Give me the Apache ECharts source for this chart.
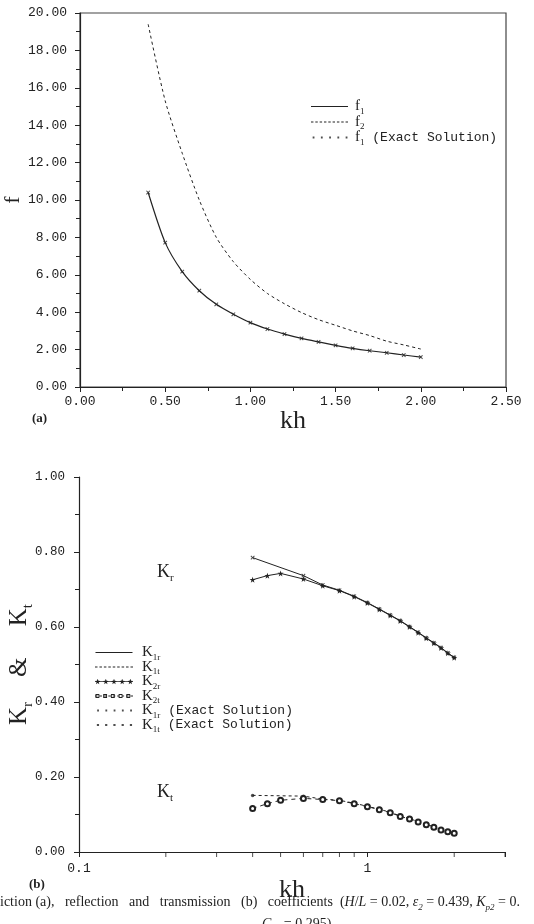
<!DOCTYPE html>
<html><head><meta charset="utf-8">
<script src="https://cdn.jsdelivr.net/npm/echarts@6/dist/echarts.min.js"></script>
<style>html,body{margin:0;padding:0;background:#fff}#c{width:534px;height:924px}</style>
</head><body><div id="c"></div>
<script>
// ---- Panel (a) data ----
const khA = [0.4,0.5,0.6,0.7,0.8,0.9,1.0,1.1,1.2,1.3,1.4,1.5,1.6,1.7,1.8,1.9,2.0];
const f1 = [10.4,7.72,6.17,5.15,4.42,3.89,3.44,3.10,2.83,2.60,2.41,2.23,2.07,1.94,1.83,1.71,1.60];
const f2 = [19.4,15.3,12.5,10.0,8.0,6.7,5.75,5.0,4.45,3.98,3.6,3.3,3.0,2.75,2.45,2.25,2.03];
const f1Exact = [10.4,7.72,6.17,5.15,4.42,3.89,3.44,3.10,2.83,2.60,2.41,2.23,2.07,1.94,1.83,1.71,1.60];

// ---- Panel (b) data ----
const khB = [0.4,0.45,0.5,0.6,0.7,0.8,0.9,1.0,1.1,1.2,1.3,1.4,1.5,1.6,1.7,1.8,1.9,2.0];
const kh1 = [0.4,0.6,0.7,0.8,0.9,1.0,1.1,1.2,1.3,1.4,1.5,1.6,1.7,1.8,1.9,2.0];
const K1r = [0.785,0.737,0.712,0.698,0.682,0.665,0.648,0.632,0.617,0.601,0.586,0.571,0.558,0.545,0.531,0.519];
const K1t = [0.151,0.149,0.141,0.138,0.130,0.122,0.114,0.106,0.096,0.089,0.081,0.074,0.067,0.060,0.055,0.051];
const K2r = [0.726,0.737,0.743,0.728,0.710,0.697,0.681,0.664,0.647,0.631,0.616,0.600,0.585,0.570,0.557,0.544,0.530,0.518];
const K2t = [0.116,0.129,0.138,0.143,0.140,0.137,0.129,0.121,0.113,0.105,0.095,0.088,0.080,0.073,0.066,0.059,0.054,0.050];
const K1rExact = [0.785,0.737,0.712,0.698,0.682,0.665,0.648,0.632,0.617,0.601,0.586,0.571,0.558,0.545,0.531,0.519];
const K1tExact = [0.151,0.149,0.141,0.138,0.130,0.122,0.114,0.106,0.096,0.089,0.081,0.074,0.067,0.060,0.055,0.051];
const logMinorTicks = [0.2,0.3,0.4,0.5,0.6,0.7,0.8,0.9,2,3];
const logLabels = ['0.1','1'];

// ---- helpers ----
const pair = (xs, ys) => xs.map((x, i) => [x, ys[i]]);
const INK = '#222';
const MONO = 'Liberation Mono';
const SERIF = 'Liberation Serif';

function rect(x, y, w, h) { return `M${x},${y}h${w}v${h}h${-w}z`; }
function dashes(y) { let s = ''; for (let x = 0; x < 37; x += 4.6) s += rect(x, y, 2.6, 0.9); return s; }
function dots(size) { let s = ''; for (let i = 0; i < 5; i++) { const cx = 2 + i * 8.25; s += rect(cx - size / 2, 3 - size / 2, size, size); } return s; }
function stars() { let s = ''; for (let i = 0; i < 5; i++) { const cx = 2.5 + i * 8; s += `M${cx},0.2L${cx+0.75},2.2L${cx+2.6},2.3L${cx+1.1},3.5L${cx+1.6},5.6L${cx},4.4L${cx-1.6},5.6L${cx-1.1},3.5L${cx-2.6},2.3L${cx-0.75},2.2Z`; } return s; }
function rings() { let s = ''; for (let i = 0; i < 5; i++) { const cx = 2.5 + i * 8; s += `M${cx-2},1h4v4h-4z M${cx-1.1},1.9v2.2h2.2v-2.2z`; } return s; }
const ICON_SOLID = 'path://' + rect(0, 2.6, 37, 0.9) + rect(0, 0, 0.01, 6);
const ICON_DASH = 'path://' + dashes(2.6) + rect(0, 0, 0.01, 6);
const ICON_CROSS = 'path://' + dots(1.8) + rect(0, 0, 0.01, 6);
const ICON_DOT = 'path://' + dots(2.2) + rect(0, 0, 0.01, 6);
const ICON_STAR = 'path://' + rect(0, 2.6, 37, 0.9) + stars();
const ICON_RING = 'path://' + dashes(2.6) + rings();

const crossSym = 'path://M2,0h1v2h2v1h-2v2h-1v-2h-2v-1h2z';
const starSym = 'path://M5,0L6.2,3.6L10,3.6L6.9,5.9L8.1,9.5L5,7.3L1.9,9.5L3.1,5.9L0,3.6L3.8,3.6Z';

const legendRich = {
  m: { fontFamily: MONO, fontSize: 13, lineHeight: 13, color: INK },
  k: { fontFamily: SERIF, fontSize: 15, lineHeight: 13, color: INK },
  s: { fontFamily: SERIF, fontSize: 9, lineHeight: 9, verticalAlign: 'bottom', color: INK, padding: [0, 0, -3, 0] }
};
const legendNames = {
  'f1': '{k|f}{s|1}',
  'f2': '{k|f}{s|2}',
  'f1 exact': '{k|f}{s|1}{m| (Exact Solution)}',
  'K1r': '{k|K}{s|1r}',
  'K1t': '{k|K}{s|1t}',
  'K2r': '{k|K}{s|2r}',
  'K2t': '{k|K}{s|2t}',
  'K1r exact': '{k|K}{s|1r}{m| (Exact Solution)}',
  'K1t exact': '{k|K}{s|1t}{m| (Exact Solution)}'
};

const axisCommon = {
  axisLine: { show: true, lineStyle: { color: INK, width: 1.2 } },
  axisTick: { show: true, length: 5, lineStyle: { color: INK, width: 1 } },
  minorTick: { show: true, splitNumber: 2, length: 4, lineStyle: { color: INK, width: 1 } },
  splitLine: { show: false },
  minorSplitLine: { show: false },
  nameMoveOverlap: false
};

const capRich = {
  t: { fontFamily: SERIF, fontSize: 14, lineHeight: 15, fill: '#222' },
  i: { fontFamily: SERIF, fontSize: 14, lineHeight: 15, fontStyle: 'italic', fill: '#222' },
  u: { fontFamily: SERIF, fontSize: 9, lineHeight: 9, fontStyle: 'italic', verticalAlign: 'bottom', fill: '#222', padding: [0, 0, -3, 0] }
};
const annRich = {
  k: { fontFamily: SERIF, fontSize: 18, lineHeight: 18, fill: INK },
  s: { fontFamily: SERIF, fontSize: 11, lineHeight: 11, verticalAlign: 'bottom', fill: INK, padding: [0, 0, -3, 0] }
};

const chart = echarts.init(document.getElementById('c'), null, { renderer: 'canvas' });
chart.setOption({
  animation: false,
  backgroundColor: '#fff',
  grid: [
    { left: 80, top: 13, width: 426, height: 374, containLabel: false, outerBoundsMode: 'none', show: true, borderColor: '#444', borderWidth: 1.2, backgroundColor: 'transparent' },
    { left: 79, top: 477, width: 426, height: 375, containLabel: false, outerBoundsMode: 'none' }
  ],
  xAxis: [
    Object.assign({}, axisCommon, {
      gridIndex: 0, type: 'value', min: 0, max: 2.5, interval: 0.5,
      axisLabel: { formatter: v => v.toFixed(2), fontFamily: MONO, fontSize: 13, color: INK, margin: 8 },
      name: 'kh', nameLocation: 'middle', nameGap: 21,
      nameTextStyle: { fontFamily: SERIF, fontSize: 26, color: INK }
    }),
    Object.assign({}, axisCommon, {
      gridIndex: 1, type: 'log', logBase: 10, min: 0.1, max: 3,
      minorTick: { show: false },
      axisLabel: {
        formatter: v => (Math.abs(v - 0.1) < 1e-6 ? logLabels[0] : (Math.abs(v - 1) < 1e-6 ? logLabels[1] : '')),
        fontFamily: MONO, fontSize: 13, color: INK, margin: 10
      },
      name: 'kh', nameLocation: 'middle', nameGap: 25,
      nameTextStyle: { fontFamily: SERIF, fontSize: 26, color: INK }
    })
  ],
  yAxis: [
    Object.assign({}, axisCommon, {
      gridIndex: 0, type: 'value', min: 0, max: 20, interval: 2,
      axisLabel: { formatter: v => v.toFixed(2), fontFamily: MONO, fontSize: 13, color: INK, margin: 13 },
      name: 'f', nameLocation: 'middle', nameGap: 56, nameRotate: 90,
      nameTextStyle: { fontFamily: SERIF, fontSize: 22, color: INK }
    }),
    Object.assign({}, axisCommon, {
      gridIndex: 1, type: 'value', min: 0, max: 1, interval: 0.2,
      axisLabel: { formatter: v => v.toFixed(2), fontFamily: MONO, fontSize: 12.5, color: INK, margin: 14 },
      name: '{k|K}{s|r}{k|    &     K}{s|t}', nameLocation: 'middle', nameGap: 47, nameRotate: 90,
      nameTextStyle: {
        rich: {
          k: { fontFamily: SERIF, fontSize: 25, lineHeight: 25, color: INK },
          s: { fontFamily: SERIF, fontSize: 15, lineHeight: 15, verticalAlign: 'bottom', color: INK, padding: [0, 0, -4, 0] }
        }
      }
    })
  ],
  legend: [
    {
      left: 306, top: 94, orient: 'vertical', itemWidth: 37, itemHeight: 6, itemGap: -1.5,
      selectedMode: false,
      itemStyle: { color: INK, borderWidth: 0 },
      data: [
        { name: 'f1', icon: ICON_SOLID },
        { name: 'f2', icon: ICON_DASH },
        { name: 'f1 exact', icon: ICON_CROSS }
      ],
      formatter: n => legendNames[n],
      textStyle: { rich: legendRich, padding: [0, 0, 0, 2] }
    },
    {
      left: 90, top: 640, orient: 'vertical', itemWidth: 38, itemHeight: 6, itemGap: -2.5,
      selectedMode: false,
      itemStyle: { color: INK, borderWidth: 0 },
      data: [
        { name: 'K1r', icon: ICON_SOLID },
        { name: 'K1t', icon: ICON_DASH },
        { name: 'K2r', icon: ICON_STAR },
        { name: 'K2t', icon: ICON_RING },
        { name: 'K1r exact', icon: ICON_CROSS },
        { name: 'K1t exact', icon: ICON_DOT }
      ],
      formatter: n => legendNames[n],
      textStyle: { rich: legendRich, padding: [0, 0, 0, 4] }
    }
  ],
  series: [
    { name: 'f1', type: 'line', xAxisIndex: 0, yAxisIndex: 0, data: pair(khA, f1), showSymbol: false, symbol: 'none', smooth: 0.25, lineStyle: { color: INK, width: 1.2 }, itemStyle: { color: INK } },
    { name: 'f2', type: 'line', xAxisIndex: 0, yAxisIndex: 0, data: pair(khA, f2), showSymbol: false, symbol: 'none', smooth: 0.25, lineStyle: { color: INK, width: 1, type: [3, 3] }, itemStyle: { color: INK } },
    { name: 'f1 exact', type: 'scatter', xAxisIndex: 0, yAxisIndex: 0, data: pair(khA, f1Exact), symbol: crossSym, symbolSize: 5, symbolRotate: 45, itemStyle: { color: INK } },

    { name: 'K1r', type: 'line', xAxisIndex: 1, yAxisIndex: 1, data: pair(kh1, K1r), symbol: 'none', lineStyle: { color: INK, width: 1 }, itemStyle: { color: INK } },
    { name: 'K1t', type: 'line', xAxisIndex: 1, yAxisIndex: 1, data: pair(kh1, K1t), symbol: 'none', lineStyle: { color: INK, width: 1, type: [3, 3] }, itemStyle: { color: INK } },
    { name: 'K2r', type: 'line', xAxisIndex: 1, yAxisIndex: 1, data: pair(khB, K2r), symbol: starSym, symbolSize: 6, lineStyle: { color: INK, width: 1 }, itemStyle: { color: INK } },
    { name: 'K2t', type: 'line', xAxisIndex: 1, yAxisIndex: 1, data: pair(khB, K2t), symbol: 'emptyCircle', symbolSize: 5, lineStyle: { color: INK, width: 1, type: [4, 4] }, itemStyle: { color: INK, borderColor: INK, borderWidth: 1 } },
    { name: 'K1r exact', type: 'scatter', xAxisIndex: 1, yAxisIndex: 1, data: pair(kh1, K1rExact), symbol: crossSym, symbolSize: 5, symbolRotate: 45, itemStyle: { color: INK } },
    { name: 'K1t exact', type: 'scatter', xAxisIndex: 1, yAxisIndex: 1, data: pair(kh1, K1tExact), symbol: 'circle', symbolSize: 3.5, itemStyle: { color: INK } },

    { name: 'logticks', type: 'scatter', xAxisIndex: 1, yAxisIndex: 1, data: logMinorTicks.map(v => [v, 0]), symbol: 'rect', symbolSize: [1, 5], symbolOffset: [0, 2.5], clip: false, silent: true, itemStyle: { color: INK } }
  ],
  graphic: [
    { type: 'text', left: 32, top: 412, style: { text: '(a)', font: 'bold 13px "Liberation Serif"', fill: INK } },
    { type: 'text', left: 29, top: 878, style: { text: '(b)', font: 'bold 13px "Liberation Serif"', fill: INK } },
    { type: 'text', left: 157, top: 563, style: { text: '{k|K}{s|r}', rich: annRich } },
    { type: 'text', left: 157, top: 783, style: { text: '{k|K}{s|t}', rich: annRich } },
    { type: 'text', left: 0, top: 895, style: {
      text: '{t|iction (a),   reflection   and   transmission   (b)   coefficients  (}{i|H}{t|/}{i|L}{t| = 0.02, }{i|ε}{u|2}{t| = 0.439, }{i|K}{u|p2}{t| = 0.}',
      rich: capRich } },
    { type: 'text', left: 262, top: 917, style: { text: '{i|C}{u|p2}{t| = 0.295)}', rich: capRich } }
  ]
});
</script></body></html>
